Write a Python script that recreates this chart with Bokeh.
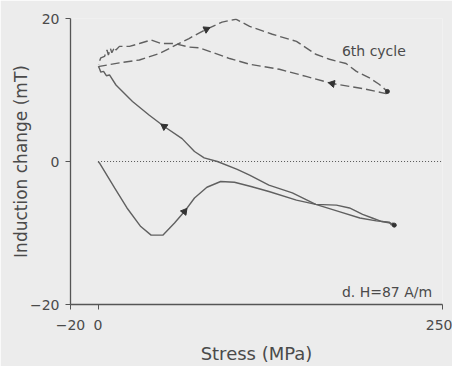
import numpy as np
from bokeh.plotting import figure
from bokeh.models import Range1d, FixedTicker, Label
from bokeh.embed import file_html
from bokeh.resources import INLINE

# first cycle, loading (solid)
load1_s = [0, 1, 12, 21, 31, 38.5, 47, 55.5, 62.7, 70, 79, 89, 99, 111, 124, 144, 158, 173, 182.5, 192, 199, 206, 212, 215]
load1_i = [0, -0.2, -3.7, -6.5, -9.1, -10.3, -10.3, -8.6, -7.0, -5.1, -3.6, -2.8, -2.9, -3.5, -4.2, -5.4, -6.0, -6.1, -6.5, -7.4, -7.9, -8.4, -8.6, -8.9]
# first cycle, unloading (solid)
unload1_s = [215, 214, 213, 211.5, 202, 190, 175, 158, 141, 124, 110, 101, 86.6, 77, 70, 61, 48, 37, 25, 13, 8.3, 6, 4, 2, 1, 0.5]
unload1_i = [-8.9, -8.6, -8.9, -8.5, -8.3, -7.9, -7.0, -6.0, -4.4, -3.3, -1.9, -1.1, 0, 0.5, 1.4, 3.2, 4.9, 6.5, 8.4, 10.7, 12.1, 12.0, 12.6, 12.5, 13.0, 13.2]
# 6th cycle, loading (dashed)
load6_s = [0, 1, 15.5, 30, 44.6, 56.7, 66, 73.6, 78.6, 90, 100, 110, 126.5, 144, 158, 168, 180, 187.5, 197, 204, 210]
load6_i = [13.2, 13.3, 13.8, 14.2, 15.1, 16.3, 17.2, 18.0, 18.5, 19.5, 19.9, 18.9, 17.8, 16.8, 15.0, 14.3, 13.7, 12.6, 11.7, 10.8, 9.8]
# 6th cycle, unloading (dashed)
unload6_s = [210, 209, 192, 170, 151, 131.6, 110, 95.5, 73.6, 66, 55.4, 45.8, 38.5, 30, 22.8, 15.5, 13, 12, 10, 9, 7.5, 6.5, 4.7, 2, 1, 0.5]
unload6_i = [9.6, 9.5, 10.2, 10.9, 11.9, 12.9, 13.6, 14.4, 15.9, 16.0, 16.5, 16.5, 17.0, 16.5, 16.1, 16.1, 15.6, 16.0, 15.2, 15.8, 14.9, 15.6, 14.7, 14.5, 14.0, 13.5]

x_ticks = [-20, 0, 250]
y_ticks = [-20, 0, 20]
zero_s = [0, 250]
zero_i = [0, 0]

BG = "#ececec"
INK = "#606060"
TXT = "#4a4a4a"
FONT = "DejaVu Sans"

XR = (-20, 250)
YR = (-20, 20)
FW, FH = 372, 286

p = figure(frame_width=FW, frame_height=FH, x_range=Range1d(*XR), y_range=Range1d(*YR),
           output_backend="svg", toolbar_location=None,
           min_border_left=70, min_border_top=18, min_border_right=10, min_border_bottom=54)
p.background_fill_color = BG
p.border_fill_color = BG
p.outline_line_color = None
p.grid.visible = False

p.xaxis.ticker = FixedTicker(ticks=x_ticks)
p.yaxis.ticker = FixedTicker(ticks=y_ticks)
p.xaxis.axis_label = "Stress (MPa)"
p.yaxis.axis_label = "Induction change (mT)"
for ax in (p.xaxis, p.yaxis):
    ax.axis_line_color = "#555555"
    ax.axis_line_width = 1.3
    ax.major_tick_line_color = "#555555"
    ax.major_tick_out = 5
    ax.major_tick_in = 0
    ax.minor_tick_line_color = None
    ax.major_label_text_font = FONT
    ax.major_label_text_font_size = "14px"
    ax.major_label_text_color = TXT
    ax.axis_label_text_font = FONT
    ax.axis_label_text_font_style = "normal"
    ax.axis_label_text_color = TXT
p.xaxis.axis_label_text_font_size = "18px"
p.yaxis.axis_label_text_font_size = "17px"
p.xaxis.major_label_standoff = 10
p.yaxis.major_label_standoff = 6
p.yaxis.axis_label_standoff = -4
p.xaxis.axis_label_standoff = 10

# zero reference line
p.line(zero_s, zero_i, line_color="#555555", line_width=1.1, line_dash="1 2")

p.line(load1_s, load1_i, line_color=INK, line_width=1.4)
p.line(unload1_s, unload1_i, line_color=INK, line_width=1.4)
p.line(load6_s, load6_i, line_color=INK, line_width=1.4, line_dash="9 4")
p.line(unload6_s, unload6_i, line_color=INK, line_width=1.4, line_dash="9 4")

# direction arrows placed on the curves
kx = FW / (XR[1] - XR[0])
ky = FH / (YR[1] - YR[0])

def arrow(xs, ys, at):
    k = min(range(1, len(xs) - 1), key=lambda j: abs(xs[j] - at))
    dx = (xs[k + 1] - xs[k - 1]) * kx
    dy = (ys[k + 1] - ys[k - 1]) * ky
    ang = float(np.arctan2(dy, dx) - np.pi / 2)
    p.scatter([xs[k]], [ys[k]], marker="triangle", size=7, angle=ang,
              fill_color="#333333", line_color="#333333")

arrow(load1_s, load1_i, 62.7)
arrow(unload1_s, unload1_i, 48)
arrow(load6_s, load6_i, 78.6)
arrow(unload6_s, unload6_i, 170)

# end blobs
p.scatter([load1_s[-1], load6_s[-1]], [load1_i[-1], load6_i[-1]], size=4,
          fill_color="#333333", line_color="#333333")

p.add_layout(Label(x=177, y=15.4, text="6th cycle", text_font=FONT, text_baseline="alphabetic",
                   text_font_size="14px", text_color=TXT))
p.add_layout(Label(x=177, y=-18.2, text="d. H=87 A/m", text_font=FONT, text_baseline="alphabetic",
                   text_font_size="14px", text_color=TXT))

open("out.html", "w").write(file_html(p, INLINE))
